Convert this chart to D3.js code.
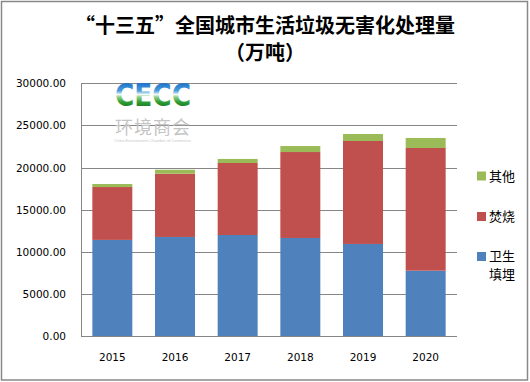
<!DOCTYPE html>
<html><head><meta charset="utf-8">
<script src="https://cdn.jsdelivr.net/npm/d3@7"></script>
<style>html,body{margin:0;padding:0;background:#fff;}svg{display:block;}</style>
</head><body>
<svg id="c" width="530" height="382"></svg>
<script>
const years = ["2015","2016","2017","2018","2019","2020"];
const landfill = [11430, 11780, 12010, 11660, 10950, 7780];
const incineration = [6270, 7500, 8540, 10190, 12210, 14550];
const other = [360, 470, 480, 710, 830, 1190];
const seriesNames = ["卫生填埋","焚烧","其他"];
const yTicks = [0,5000,10000,15000,20000,25000,30000];
const titleLines = ["“十三五”全国城市生活垃圾无害化处理量","（万吨）"];
const colors = ["#4f81bd","#c0504d","#9bbb59"];

const svg = d3.select("#c");
svg.append("rect").attr("x",1.5).attr("y",1.5).attr("width",526).attr("height",378.5)
  .attr("fill","#fff").attr("stroke","#888").attr("stroke-width",1.5);

// title
svg.append("g").selectAll("text").data(titleLines).join("text")
  .attr("x",265).attr("y",(d,i)=>i===0?33:60)
  .attr("text-anchor","middle")
  .attr("font-family","'Noto Sans CJK SC','Noto Sans',sans-serif")
  .attr("font-weight","bold").attr("font-size",20).attr("fill","#000")
  .text(d=>d);

const L=81,R=457,T=83.3,B=336.3;
const x = d3.scaleBand().domain(years).range([L,R]).paddingInner(0.362).paddingOuter(0.181);
const y = d3.scaleLinear().domain([0,30000]).range([B,T]);

// gridlines
svg.append("g").selectAll("line").data(yTicks.filter(v=>v>0)).join("line")
  .attr("x1",L).attr("x2",R).attr("y1",d=>Math.round(y(d))+0.5).attr("y2",d=>Math.round(y(d))+0.5)
  .attr("stroke","#868686").attr("stroke-width",1);

// logo watermark
const defs = svg.append("defs");
const grad = defs.append("linearGradient").attr("id","lg").attr("gradientUnits","userSpaceOnUse")
  .attr("x1",0).attr("x2",0).attr("y1",82).attr("y2",107);
[[0,"#1a6cc4"],[0.35,"#4a9edc"],[0.5,"#f2f8f6"],[0.6,"#8fd08a"],[0.8,"#2f9e36"],[1,"#1b7a28"]]
  .forEach(([o,c])=>grad.append("stop").attr("offset",o).attr("stop-color",c));
const logo = svg.append("g");
logo.append("text").attr("x",115).attr("y",106)
  .attr("font-family","'DejaVu Sans',sans-serif").attr("font-weight","bold").attr("font-size",32)
  .attr("textLength",76).attr("lengthAdjust","spacingAndGlyphs")
  .attr("fill","url(#lg)").text("CECC");
logo.append("text").attr("x",115).attr("y",134)
  .attr("font-family","'Noto Sans CJK SC',sans-serif").attr("font-size",18)
  .attr("textLength",75).attr("lengthAdjust","spacing")
  .attr("fill","#c4c4c4").text("环境商会");
logo.append("text").attr("x",114).attr("y",142)
  .attr("font-family","'Liberation Sans',sans-serif").attr("font-size",3.6)
  .attr("textLength",77).attr("lengthAdjust","spacingAndGlyphs")
  .attr("fill","#c8c8c8").text("China Environment Chamber of Commerce");

// stacked bars
const rows = years.map((yr,i)=>({year:yr, "卫生填埋":landfill[i], "焚烧":incineration[i], "其他":other[i]}));
const stacked = d3.stack().keys(seriesNames)(rows);
svg.append("g").selectAll("g").data(stacked).join("g")
  .attr("fill",(d,i)=>colors[i])
  .selectAll("rect").data(d=>d).join("rect")
  .attr("x",d=>x(d.data.year)).attr("width",x.bandwidth())
  .attr("y",d=>y(d[1])).attr("height",d=>y(d[0])-y(d[1]));

// axes lines
svg.append("line").attr("x1",L+0.5).attr("x2",L+0.5).attr("y1",T).attr("y2",B+0.5).attr("stroke","#868686");
svg.append("line").attr("x1",L).attr("x2",R).attr("y1",Math.round(B)+0.5).attr("y2",Math.round(B)+0.5).attr("stroke","#868686");

// y labels
const yAxis = d3.axisLeft(y).tickValues(yTicks).tickFormat(d=>d.toFixed(2)).tickSize(0).tickPadding(15);
const ya = svg.append("g").attr("transform",`translate(${L},0)`).call(yAxis);
ya.select(".domain").remove();
ya.selectAll("text").attr("font-family","'DejaVu Sans',sans-serif").attr("font-size",10.5).attr("fill","#000");

// x labels
const xAxis = d3.axisBottom(x).tickSize(0).tickPadding(17);
const xa = svg.append("g").attr("transform",`translate(0,${B})`).call(xAxis);
xa.select(".domain").remove();
xa.selectAll("text").attr("font-family","'DejaVu Sans',sans-serif").attr("font-size",10.5).attr("fill","#000");

// legend
const legendItems = [
  {name:"其他", color:colors[2], lines:["其他"], cy:176},
  {name:"焚烧", color:colors[1], lines:["焚烧"], cy:216.5},
  {name:"卫生填埋", color:colors[0], lines:["卫生","填埋"], cy:256.5}
];
const lg = svg.append("g");
legendItems.forEach(it=>{
  lg.append("rect").attr("x",477).attr("y",it.cy-4.5).attr("width",9).attr("height",9).attr("fill",it.color);
  it.lines.forEach((t,j)=>{
    lg.append("text").attr("x",489).attr("y",it.cy+j*17.5).attr("dy","0.36em")
      .attr("font-family","'Noto Sans CJK SC',sans-serif").attr("font-size",13).attr("fill","#000").text(t);
  });
});
</script>
</body></html>
